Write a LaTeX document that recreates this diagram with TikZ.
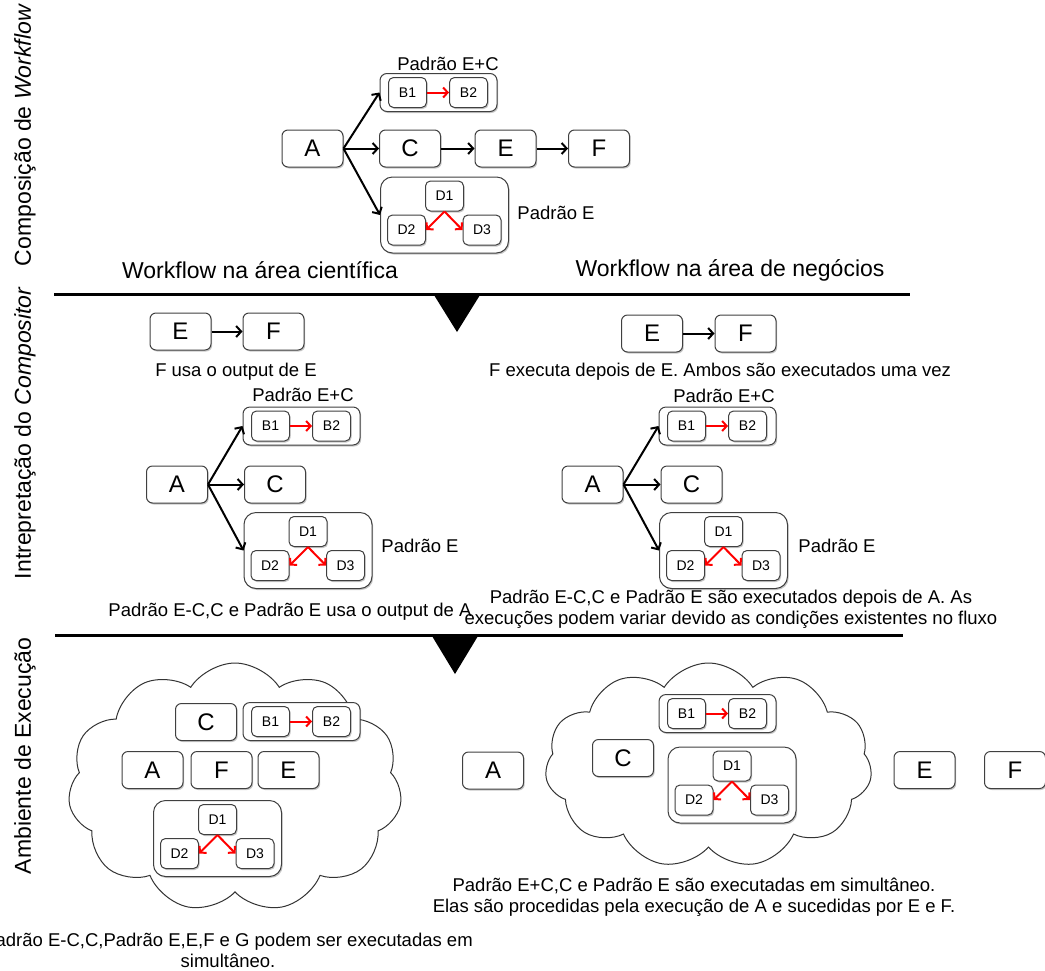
\documentclass[tikz,border=0pt]{standalone}
\usepackage{fontspec}
\setmainfont{Liberation Sans}
\usetikzlibrary{arrows.meta,shapes.symbols,shadows}

\tikzset{
  x=1pt, y=-1pt,
  softshadow/.style={drop shadow={shadow xshift=1.2pt, shadow yshift=-1.5pt, fill=black, opacity=0.22}},
  box/.style={draw=black!75, line width=1pt, rounded corners=6pt, fill=white,
    minimum width=61pt, minimum height=37pt, inner sep=0pt,
    font=\fontsize{24}{24}\selectfont, softshadow},
  sbox/.style={box, rounded corners=5pt, minimum width=38pt, minimum height=30pt,
    font=\fontsize{14}{14}\selectfont},
  bbox/.style={box, rounded corners=7pt, minimum width=117pt, minimum height=38pt},
  dbox/.style={box, rounded corners=12pt, minimum width=128pt, minimum height=76pt},
  flow/.style={-{Straight Barb[length=5pt,width=11pt]}, line width=2pt, black},
  redflow/.style={-{Straight Barb[length=4.5pt,width=10pt]}, line width=2pt, red},
  caption/.style={font=\fontsize{18.5}{21}\selectfont, align=center, inner sep=0pt},
  header/.style={font=\fontsize{23}{23}\selectfont, inner sep=0pt},
  sidelabel/.style={rotate=90, font=\fontsize{23}{23}\selectfont, inner sep=0pt},
  divider/.style={line width=3pt},
  pointer/.style={fill=black},
  cloudshape/.style={cloud, draw=black!80, line width=1pt, cloud puffs=11,
    cloud puff arc=115, cloud ignores aspect, inner sep=0pt},
  bgroup/.pic={
    \node[bbox] (-box) at (0,0) {};
    \node[sbox] (-b1) at (-31,0) {B1};
    \node[sbox] (-b2) at (30,0) {B2};
    \draw[redflow] (-b1) -- (-b2);
  },
  dgroup/.pic={
    \node[dbox] (-box) at (0,0) {};
    \node[sbox] (-d1) at (0,-19) {D1};
    \node[sbox] (-d2) at (-38,15) {D2};
    \node[sbox] (-d3) at (37.5,15) {D3};
    \draw[redflow] (-d1.south) -- (-d2.east);
    \draw[redflow] (-d1.south) -- (-d3.west);
  },
}

\begin{document}
\begin{tikzpicture}
\useasboundingbox (0,0) rectangle (1045,970);

% side titles
\node[sidelabel] (side1) at (25,135) {Composição de \textit{Workflow}};
\node[sidelabel] (side2) at (25,433) {Intrepretação do \textit{Compositor}};
\node[sidelabel] (side3) at (25,756) {Ambiente de Execução};

% ---- workflow composition ----
\node[box] (tA) at (312.5,148.5) {A};
\node[box] (tC) at (410,148.5) {C};
\node[box] (tE) at (505.5,148.5) {E};
\node[box] (tF) at (599,148.5) {F};
\pic (tb) at (438.5,92.5) {bgroup};
\pic (td) at (444.5,215) {dgroup};
\node[caption] (tbl) at (448,64) {Padrão E+C};
\node[caption] (tdl) at (556,213) {Padrão E};
\draw[flow] (tA.east) -- (tb-box.west);
\draw[flow] (tA.east) -- (tC.west);
\draw[flow] (tA.east) -- (td-box.west);
\draw[flow] (tC) -- (tE);
\draw[flow] (tE) -- (tF);

\node[header] (h1) at (260,270) {Workflow na área científica};
\node[header] (h2) at (730,270) {Workflow na área de negócios};

% divider with pointer
\coordinate (l1a) at (54,294);
\coordinate (l1b) at (910,294);
\draw[divider] (l1a) -- (l1b);
\coordinate (p1l) at (434,295);
\coordinate (p1r) at (480,295);
\coordinate (p1t) at (457,332);
\fill[pointer] (p1l) -- (p1r) -- (p1t) -- cycle;

% ---- scientific interpretation ----
\node[box] (sE) at (180.5,331.5) {E};
\node[box] (sF) at (273.5,331.5) {F};
\draw[flow] (sE) -- (sF);
\node[caption] (sc1) at (236,372) {F usa o output de E};
\node[caption] (sbl) at (303,395) {Padrão E+C};
\pic (sb) at (301.5,426) {bgroup};
\node[box] (sA) at (177,484.5) {A};
\node[box] (sC) at (275,484.5) {C};
\pic (sd) at (308,550.5) {dgroup};
\node[caption] (sdl) at (420,546) {Padrão E};
\draw[flow] (sA.east) -- (sb-box.west);
\draw[flow] (sA.east) -- (sC.west);
\draw[flow] (sA.east) -- (sd-box.west);
\node[caption] (sc2) at (290,612) {Padrão E-C,C e Padrão E usa o output de A};

% ---- business interpretation ----
\node[box] (bE) at (652,333.5) {E};
\node[box] (bF) at (745.5,333.5) {F};
\draw[flow] (bE) -- (bF);
\node[caption] (bc1) at (720,372) {F executa depois de E. Ambos são executados uma vez};
\node[caption] (bbl) at (724,396) {Padrão E+C};
\pic (bb) at (717.5,426) {bgroup};
\node[box] (bA) at (592.5,484.5) {A};
\node[box] (bC) at (691.5,484.5) {C};
\pic (bd) at (723.5,550.5) {dgroup};
\node[caption] (bdl) at (837,546) {Padrão E};
\draw[flow] (bA.east) -- (bb-box.west);
\draw[flow] (bA.east) -- (bC.west);
\draw[flow] (bA.east) -- (bd-box.west);
\node[caption] (bc2) at (731,609) {Padrão E-C,C e Padrão E são executados depois de A. As\\execuções podem variar devido as condições existentes no fluxo};

% divider with pointer
\coordinate (l2a) at (55,635);
\coordinate (l2b) at (903,635);
\draw[divider] (l2a) -- (l2b);
\coordinate (p2l) at (432,636);
\coordinate (p2r) at (478,636);
\coordinate (p2t) at (455,674);
\fill[pointer] (p2l) -- (p2r) -- (p2t) -- cycle;

% ---- execution environment: scientific ----
\node[cloudshape, minimum width=334pt, minimum height=249pt] (cl1) at (235,787.5) {};
\node[box] (eC) at (206,722) {C};
\pic (eb) at (301.5,721.5) {bgroup};
\node[box] (eA) at (152.5,770) {A};
\node[box] (eF) at (221.5,770) {F};
\node[box] (eE) at (288.5,770) {E};
\pic (ed) at (217.5,838.5) {dgroup};
\node[caption] (ec) at (228,950) {Padrão E-C,C,Padrão E,E,F e G podem ser executadas em\\simultâneo.};

% ---- execution environment: business ----
\node[cloudshape, minimum width=327pt, minimum height=205pt] (cl2) at (708.5,765.5) {};
\node[box] (rA) at (493,770.5) {A};
\node[box] (rC) at (623,758) {C};
\pic (rb) at (717.5,713.5) {bgroup};
\pic (rd) at (732,785) {dgroup};
\node[box] (rE) at (924.5,770) {E};
\node[box] (rF) at (1015,770) {F};
\node[caption] (rc) at (694,897) {Padrão E+C,C e Padrão E são executadas em simultâneo.\\Elas são procedidas pela execução de A e sucedidas por E e F.};
\end{tikzpicture}
\end{document}
